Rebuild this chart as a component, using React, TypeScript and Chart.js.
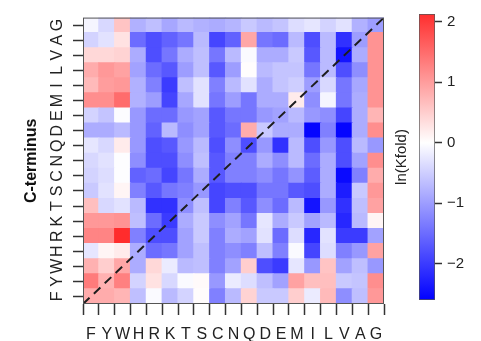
import React, { useEffect, useRef } from 'react';
import { Chart, registerables } from 'chart.js';

Chart.register(...registerables);

// Residue order used for both axes (x: N-terminus, y: C-terminus, bottom to top)
const residues = ['F', 'Y', 'W', 'H', 'R', 'K', 'T', 'S', 'C', 'N', 'Q', 'D', 'E', 'M', 'I', 'L', 'V', 'A', 'G'];

// ln(Kfold) values; each row is one C-terminus residue, columns follow `residues`
const rowF = [0.85, 0.85, 0.75, -0.65, -0.05, -0.7, -0.45, 0.03, -1.3, -0.7, 0.45, -0.55, -0.55, 0.5, -0.2, 0.7, -1.15, -0.65, 1.05];
const rowY = [1.35, 0.8, 1.3, -0.45, 0.3, -0.4, -0.05, 0.05, -1.05, -0.2, -0.35, -0.65, -0.95, 0.95, 0.65, 0.65, -0.55, -0.6, 1.15];
const rowW = [0.8, 0.5, 0.9, -0.85, 0.4, -0.2, -0.7, -0.65, -1.3, -0.95, 0.5, -1.8, -2.0, -0.25, -1.05, 0.6, -0.95, -0.65, -1.05];
const rowH = [-0.25, 0.1, 0.2, -0.85, -1.5, -1.4, -0.95, -0.65, -1.3, -1.15, -1.3, -0.65, -1.3, -0.05, -1.9, -0.35, -1.3, -1.05, 0.95];
const rowR = [1.25, 1.25, 2.15, -1.3, -1.8, -1.8, -0.95, -0.55, -1.3, -0.85, -0.95, -0.3, -1.5, -0.35, -2.2, -0.3, -2.0, -2.0, -0.95];
const rowK = [1.05, 1.05, 1.1, -0.65, -1.5, -2.0, -0.85, -0.55, -1.15, -0.95, -1.4, -0.25, -0.85, -0.55, -0.95, -0.7, -2.2, -0.7, 0.1];
const rowT = [0.65, -0.4, -0.3, -0.7, -2.1, -2.1, -1.15, -0.65, -1.9, -1.3, -1.7, -1.15, -1.5, -0.7, -2.4, -1.05, -2.1, -0.65, 0.95];
const rowS = [-0.55, -0.3, 0.1, -1.3, -1.7, -1.4, -1.3, -1.05, -1.9, -1.8, -1.8, -1.4, -1.4, -1.7, -1.8, -0.85, -2.3, -0.55, 1.05];
const rowC = [-0.45, -0.35, -0.02, -1.6, -1.5, -1.9, -1.4, -0.85, -1.7, -1.3, -1.3, -1.15, -1.4, -1.1, -1.65, -0.85, -2.5, -1.3, 0.85];
const rowN = [-0.4, -0.3, -0.02, -1.15, -1.8, -1.8, -1.15, -0.65, -1.7, -1.3, -1.3, -0.85, -1.15, -0.7, -1.5, -0.85, -1.8, -0.95, 1.15];
const rowQ = [-0.25, -0.4, 0.2, -1.05, -1.8, -1.7, -1.05, -0.7, -1.8, -1.15, -1.8, -1.05, -2.1, -0.7, -1.8, -1.05, -1.8, -0.7, -1.05];
const rowD = [-0.85, -0.85, -0.7, -1.05, -1.6, -0.7, -1.15, -0.95, -1.7, -1.5, 0.85, -0.55, -0.85, -0.85, -2.55, -1.3, -2.55, -0.85, 1.15];
const rowE = [-0.45, -0.6, -0.03, -1.05, -1.5, -1.5, -1.05, -0.95, -1.7, -1.4, -1.4, -1.05, -0.95, -0.7, -1.05, -1.15, -1.9, -0.85, 0.75];
const rowM = [1.15, 1.15, 1.5, -0.8, -1.0, -1.9, -0.9, -0.3, -1.4, -1.0, -1.4, -0.85, -0.85, 0.2, -1.15, -0.1, -1.4, -0.85, 1.1];
const rowI = [0.7, 1.0, 1.05, -0.8, -1.3, -2.0, -0.65, -0.3, -1.3, -0.7, -0.3, -0.85, -0.6, -0.5, -1.0, -0.4, -1.4, -0.9, 1.1];
const rowL = [0.85, 1.05, 0.95, -0.95, -1.5, -1.7, -1.0, -0.65, -1.7, -1.0, 0.02, -0.7, -0.6, -0.6, -1.4, -0.7, -1.8, -1.15, 1.1];
const rowV = [0.4, 0.4, 0.45, -0.85, -1.8, -1.4, -0.85, -0.65, -1.4, -0.7, -0.05, -0.85, -0.85, -0.55, -1.7, -0.7, -2.4, -0.85, 1.1];
const rowA = [-0.45, -0.3, 0.3, -1.5, -1.8, -1.6, -1.4, -0.7, -1.9, -1.6, 0.9, -1.4, -1.5, -0.7, -1.8, -0.7, -2.1, -1.0, 1.1];
const rowG = [-0.1, -0.4, 0.6, -0.8, -0.65, -0.9, -0.7, -0.8, -0.85, -0.75, -0.55, -0.7, -0.6, -0.35, -0.25, -0.45, -0.3, -0.8, -1.0];

const rowsBottomToTop = [rowF, rowY, rowW, rowH, rowR, rowK, rowT, rowS, rowC, rowN, rowQ, rowD, rowE, rowM, rowI, rowL, rowV, rowA, rowG];

// Colour scale
const colorLimit = 2.6;
const colorbarMin = -2.6;
const colorbarMax = 2.13;
const colorbarTicks = [2, 1, 0, -1, -2];

const FONT = "'Liberation Sans', Arial, Helvetica, sans-serif";

function bwr(v: number): string {
  const t = Math.min(1, Math.abs(v) / colorLimit);
  const c = Math.round(255 * (1 - t));
  return v >= 0 ? `rgb(255,${c},${c})` : `rgb(${c},${c},255)`;
}

const framePlugin = {
  id: 'frameAndDiagonal',
  afterDatasetsDraw(chart: any) {
    const { ctx, chartArea, scales } = chart;
    const xs = scales.x;
    const ys = scales.y;
    ctx.save();
    ctx.beginPath();
    ctx.rect(chartArea.left, chartArea.top, chartArea.right - chartArea.left, chartArea.bottom - chartArea.top);
    ctx.clip();
    ctx.strokeStyle = '#1e1e1e';
    ctx.lineWidth = 2;
    ctx.setLineDash([9, 6]);
    ctx.beginPath();
    ctx.moveTo(xs.getPixelForValue(-0.5), ys.getPixelForValue(-0.5));
    ctx.lineTo(xs.getPixelForValue(residues.length - 0.5), ys.getPixelForValue(residues.length - 0.5));
    ctx.stroke();
    ctx.restore();
    ctx.save();
    ctx.strokeStyle = '#555';
    ctx.lineWidth = 1;
    ctx.strokeRect(chartArea.left + 0.5, chartArea.top + 0.5, chartArea.right - chartArea.left - 1, chartArea.bottom - chartArea.top - 1);
    ctx.restore();
  },
};

export default function App() {
  const mainRef = useRef<HTMLCanvasElement | null>(null);
  const barRef = useRef<HTMLCanvasElement | null>(null);

  useEffect(() => {
    Chart.defaults.font.family = FONT;
    const datasets = rowsBottomToTop.map((row, r) => ({
      type: 'bar' as const,
      label: residues[r],
      data: row.map(() => [r - 0.5, r + 0.5]),
      backgroundColor: row.map(bwr),
      borderWidth: 0,
      barPercentage: 1,
      categoryPercentage: 1,
      grouped: false,
      inflateAmount: 0.6,
    }));

    const main = new Chart(mainRef.current as HTMLCanvasElement, {
      type: 'bar',
      data: { labels: residues, datasets: datasets as any },
      options: {
        responsive: false,
        animation: false,
        layout: { padding: { left: 0, right: 16, top: 6, bottom: 0 } },
        plugins: { legend: { display: false }, tooltip: { enabled: false } },
        scales: {
          x: {
            type: 'category',
            offset: true,
            grid: { display: true, drawOnChartArea: false, tickLength: 11, color: '#333', tickWidth: 1.5 },
            border: { display: false },
            ticks: { color: '#222', font: { size: 16 }, padding: 10, maxRotation: 0, minRotation: 0, autoSkip: false },
            afterFit: (s: any) => { s.height = 37; },
          },
          y: {
            type: 'linear',
            min: -0.5,
            max: residues.length - 0.5,
            afterBuildTicks: (s: any) => { s.ticks = residues.map((_, i) => ({ value: i })); },
            grid: { display: true, drawOnChartArea: false, tickLength: 10, color: '#333', tickWidth: 1.5 },
            border: { display: false },
            ticks: {
              callback: (v: any) => residues[v],
              minRotation: 90,
              maxRotation: 90,
              crossAlign: 'center',
              padding: 8,
              autoSkip: false,
              color: '#222',
              font: { size: 16 },
            },
            title: {
              display: true,
              text: 'C-terminus',
              color: '#111',
              font: { size: 16, weight: 'bold' },
              padding: { top: 22, bottom: 0 },
            },
            afterFit: (s: any) => { s.width = 83; },
          },
        },
      } as any,
      plugins: [framePlugin],
    });

    const bar = new Chart(barRef.current as HTMLCanvasElement, {
      type: 'bar',
      data: {
        labels: ['ln(Kfold)'],
        datasets: [
          {
            data: [[colorbarMin, colorbarMax]] as any,
            backgroundColor: (c: any) => {
              const chart = c.chart;
              const ys = chart.scales && chart.scales.y;
              if (!chart.chartArea || !ys) return '#ffffff';
              const g = chart.ctx.createLinearGradient(0, ys.getPixelForValue(-colorLimit), 0, ys.getPixelForValue(colorLimit));
              g.addColorStop(0, 'rgb(0,0,255)');
              g.addColorStop(0.5, 'rgb(255,255,255)');
              g.addColorStop(1, 'rgb(255,0,0)');
              return g;
            },
            borderColor: '#555',
            borderWidth: 1,
            borderSkipped: false,
            barPercentage: 1,
            categoryPercentage: 1,
            yAxisID: 'y',
          },
        ],
      },
      options: {
        responsive: false,
        animation: false,
        layout: { padding: { left: 0, right: 0, top: 6, bottom: 41 } },
        plugins: { legend: { display: false }, tooltip: { enabled: false } },
        scales: {
          x: { display: false },
          y: {
            type: 'linear',
            position: 'right',
            min: colorbarMin,
            max: colorbarMax,
            afterBuildTicks: (s: any) => { s.ticks = colorbarTicks.map((v) => ({ value: v })); },
            grid: { display: true, drawOnChartArea: false, tickLength: 7, color: '#333', tickWidth: 1.5 },
            border: { display: false },
            ticks: {
              color: '#222',
              font: { size: 15 },
              padding: 5,
              callback: (v: any) => (v < 0 ? '\u2212' + Math.abs(v) : String(v)),
            },
            afterFit: (s: any) => { s.width = 46; },
          },
          yl: {
            type: 'linear',
            position: 'left',
            min: colorbarMin,
            max: colorbarMax,
            grid: { display: false },
            border: { display: false },
            ticks: { display: false },
            title: {
              display: true,
              text: 'ln(Kfold)',
              color: '#222',
              font: { size: 15 },
              padding: { top: 3, bottom: 0 },
            },
            afterFit: (s: any) => { s.width = 29; },
          },
        },
      } as any,
    });

    return () => {
      main.destroy();
      bar.destroy();
    };
  }, []);

  return (
    <div style={{ position: 'fixed', left: 0, top: 0, width: 481, height: 341, background: '#fff' }}>
      <canvas ref={mainRef} width={400} height={341} style={{ position: 'absolute', left: 0, top: 0 }} />
      <canvas ref={barRef} width={91} height={341} style={{ position: 'absolute', left: 390, top: 0 }} />
    </div>
  );
}
